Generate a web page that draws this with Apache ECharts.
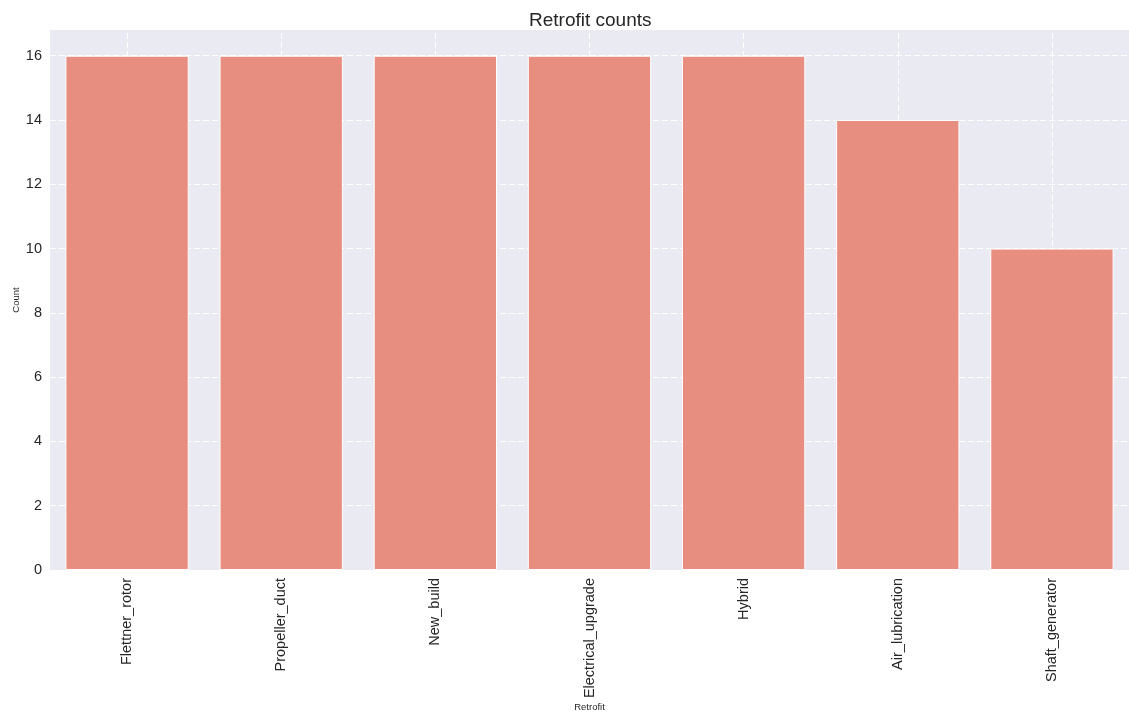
<!DOCTYPE html>
<html>
<head>
<meta charset="utf-8">
<script src="https://cdn.jsdelivr.net/npm/echarts@6/dist/echarts.min.js"></script>
<style>
  html, body { margin: 0; padding: 0; background: #fff; }
  #chart { width: 1129px; height: 718px; }
</style>
</head>
<body>
<div id="chart"></div>
<script>
// Retrofit types and how many vessels carry each one
const categories = ['Flettner_rotor', 'Propeller_duct', 'New_build', 'Electrical_upgrade', 'Hybrid', 'Air_lubrication', 'Shaft_generator'];
const counts = [16, 16, 16, 16, 16, 14, 10];
const yTicks = [0, 2, 4, 6, 8, 10, 12, 14, 16];
const xTitle = 'Retrofit';
const yTitle = 'Count';

const FONT = '"Liberation Sans", Arial, "DejaVu Sans", sans-serif';
const chart = echarts.init(document.getElementById('chart'));

chart.setOption({
  animation: false,
  backgroundColor: '#ffffff',
  title: {
    text: 'Retrofit counts',
    left: 524,
    top: 6,
    textStyle: { fontFamily: FONT, fontSize: 19, fontWeight: 'normal', color: '#262626' }
  },
  grid: {
    left: 50, right: 0, top: 30, bottom: 148,
    outerBoundsMode: 'none',
    containLabel: false,
    show: true, backgroundColor: '#EAEAF2', borderWidth: 0
  },
  // axis titles, placed just outside the tick labels
  graphic: [
    {
      type: 'text', x: 589.5, y: 707,
      style: {
        text: xTitle, fontFamily: FONT, fontSize: 9.5, fill: '#262626',
        align: 'center', verticalAlign: 'middle'
      }
    },
    {
      type: 'text', x: 16, y: 300, rotation: Math.PI / 2,
      style: {
        text: yTitle, fontFamily: FONT, fontSize: 9.5, fill: '#262626',
        align: 'center', verticalAlign: 'middle'
      }
    }
  ],
  xAxis: {
    type: 'category',
    data: categories,
    axisLine: { show: false },
    axisTick: { show: false },
    splitLine: { show: false },
    axisLabel: {
      rotate: 90, margin: 8, interval: 0,
      fontFamily: FONT, fontSize: 14.5, color: '#262626'
    }
  },
  yAxis: {
    type: 'value',
    min: 0,
    max: 16.8,
    interval: 2,
    axisLine: { show: false },
    axisTick: { show: false },
    axisLabel: {
      margin: 8, fontFamily: FONT, fontSize: 14.5, color: '#262626',
      showMaxLabel: false,
      formatter: v => (yTicks.includes(v) ? String(v) : '')
    },
    splitLine: {
      show: true, showMaxLine: false,
      lineStyle: { color: '#ffffff', type: [6, 3], width: 1 }
    }
  },
  series: [
    {
      // vertical grid lines through each category centre, behind the bars
      type: 'line',
      data: [],
      silent: true,
      z: 1,
      markLine: {
        silent: true,
        z: 1,
        symbol: 'none',
        label: { show: false },
        lineStyle: { color: '#ffffff', type: [6, 3], width: 1 },
        data: categories.map(c => ({ xAxis: c }))
      }
    },
    {
      type: 'bar',
      data: counts,
      z: 3,
      barCategoryGap: '20%',
      itemStyle: { color: '#E88E81', borderColor: '#ffffff', borderWidth: 1 }
    }
  ]
});
</script>
</body>
</html>
